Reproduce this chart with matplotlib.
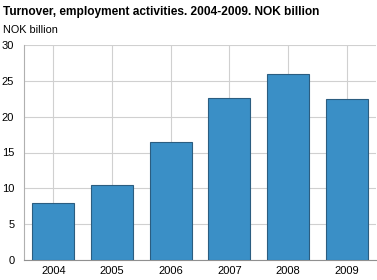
import matplotlib
matplotlib.use("Agg")
import matplotlib.pyplot as plt

plt.rcParams["font.family"] = ["Liberation Sans", "DejaVu Sans"]

years = ["2004", "2005", "2006", "2007", "2008", "2009"]
values = [8.0, 10.5, 16.4, 22.6, 25.9, 22.4]
yticks = [0, 5, 10, 15, 20, 25, 30]

W, H = 377, 280
fig = plt.figure(figsize=(W / 100, H / 100), dpi=100)
ax = fig.add_axes([24 / W, 1 - 260 / H, (376 - 24) / W, (260 - 45) / H])

x = range(len(years))
ax.bar(x, values, width=0.72, color="#3a8fc6", edgecolor="#2b5d80", linewidth=0.8, zorder=3)
ax.set_xlim(-0.5, len(years) - 0.5)
ax.set_ylim(0, 30)
ax.set_yticks(yticks)
ax.set_xticks(list(x))
ax.set_xticklabels(years)
ax.grid(True, color="#d0d0d0", linewidth=0.8, zorder=0)
ax.set_axisbelow(True)
for s in ["top", "right"]:
    ax.spines[s].set_visible(False)
ax.spines["left"].set_color("#b0b0b0")
ax.spines["bottom"].set_color("#909090")
ax.tick_params(axis="both", length=0, labelsize=8, colors="#000000", pad=4)
ax.tick_params(axis="y", pad=7)

fig.text(3 / W, 1 - 12 / H, "Turnover, employment activities. 2004-2009. NOK billion",
         fontsize=8.6, fontweight="bold", va="center", ha="left")
fig.text(3 / W, 1 - 30 / H, "NOK billion", fontsize=7.8, va="center", ha="left")

fig.savefig("out.png", dpi=100)
